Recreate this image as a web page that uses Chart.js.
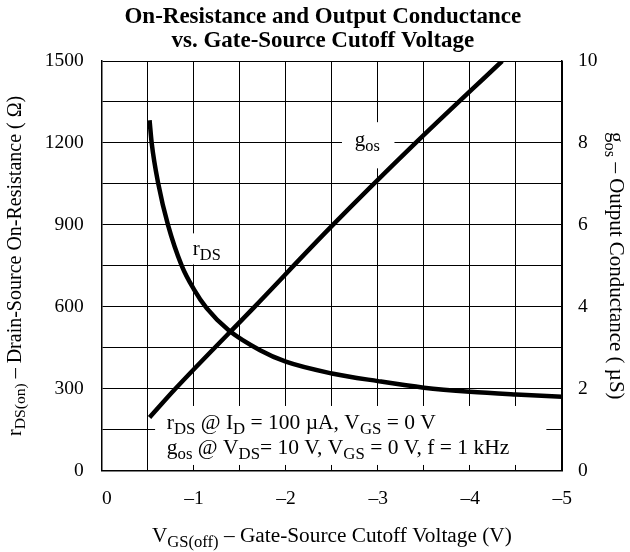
<!DOCTYPE html>
<html>
<head>
<meta charset="utf-8">
<script src="https://cdn.jsdelivr.net/npm/chart.js@4"></script>
<style>
  html, body { margin: 0; padding: 0; background: #fff; }
  #wrap { width: 630px; height: 552px; position: relative; }
</style>
</head>
<body>
<div id="wrap"><canvas id="chart"></canvas></div>
<script>
// values
const rdsVolts = [-0.52, -0.543, -0.615, -0.72, -0.87, -1.0, -1.14, -1.376, -1.72, -2.0, -2.5, -3.0, -3.5, -4.0, -4.5, -5.0];
const rdsOhms = [1283, 1200, 1050, 900, 750, 665, 595, 515, 441, 399, 356, 328, 304, 289, 279, 271];

const gosVolts = [-0.52, -0.8, -1.66, -2.49, -3.41, -4.35];
const gosMicroS = [1.3, 2.0, 4.0, 5.95, 8.0, 10.0];

const xTicks = [0, -1, -2, -3, -4, -5];
const leftTicks = [0, 300, 600, 900, 1200, 1500];
const rightTicks = [0, 2, 4, 6, 8, 10];

const FONT = '"Liberation Serif", "Times New Roman", serif';

function near(list, v) {
  return list.some(t => Math.abs(t - v) < 1e-6);
}

// draws text made of [text, isSubscript] pieces
function drawRich(ctx, parts, x, y, size, align) {
  const subSize = size * 0.78;
  let w = 0;
  parts.forEach(p => {
    ctx.font = `${p[1] ? subSize : size}px ${FONT}`;
    w += ctx.measureText(p[0]).width;
  });
  let cx = align === 'center' ? x - w / 2 : x;
  ctx.textAlign = 'left';
  ctx.textBaseline = 'alphabetic';
  ctx.fillStyle = '#000';
  parts.forEach(p => {
    ctx.font = `${p[1] ? subSize : size}px ${FONT}`;
    ctx.fillText(p[0], cx, y + (p[1] ? size * 0.22 : 0));
    cx += ctx.measureText(p[0]).width;
  });
}

const decor = {
  id: 'decor',
  beforeDatasetsDraw(chart) {
    const ctx = chart.ctx;
    const xs = chart.scales.x, ys = chart.scales.y;
    const box = (x1, x2, y1, y2) => {
      const l = xs.getPixelForValue(x1), r = xs.getPixelForValue(x2);
      const t = ys.getPixelForValue(y1), b = ys.getPixelForValue(y2);
      ctx.fillStyle = '#fff';
      ctx.fillRect(Math.min(l, r), Math.min(t, b), Math.abs(r - l), Math.abs(b - t));
    };
    ctx.save();
    box(-0.58, -4.83, 237, 21);
    box(-0.95, -1.35, 869, 755);
    box(-2.61, -3.18, 1276, 1107);

    drawRich(ctx, [['r'], ['DS', 1]], xs.getPixelForValue(-0.99), ys.getPixelForValue(788), 21);
    drawRich(ctx, [['g'], ['os', 1]], xs.getPixelForValue(-2.75), ys.getPixelForValue(1187), 21);

    const nx = xs.getPixelForValue(-0.707);
    drawRich(ctx, [['r'], ['DS', 1], [' @ I'], ['D', 1], [' = 100 \u00b5A, V'], ['GS', 1], [' = 0 V']],
      nx, ys.getPixelForValue(152), 21.5);
    drawRich(ctx, [['g'], ['os', 1], [' @ V'], ['DS', 1], ['= 10 V, V'], ['GS', 1], [' = 0 V, f = 1 kHz']],
      nx, ys.getPixelForValue(61), 21.5);
    ctx.restore();
  },
  afterDraw(chart) {
    const ctx = chart.ctx;
    const area = chart.chartArea;
    const cx = (area.left + area.right) / 2;
    const cy = (area.top + area.bottom) / 2;
    ctx.save();
    ctx.fillStyle = '#000';
    ctx.textAlign = 'center';
    ctx.textBaseline = 'alphabetic';
    ctx.font = `bold 23px ${FONT}`;
    ctx.fillText('On-Resistance and Output Conductance', cx - 9, 23);
    ctx.fillText('vs. Gate-Source Cutoff Voltage', cx - 9, 47);

    drawRich(ctx, [['V'], ['GS(off)', 1], [' \u2013 Gate-Source Cutoff Voltage (V)']], cx, 542, 21.3, 'center');

    ctx.save();
    ctx.translate(21, cy);
    ctx.rotate(-Math.PI / 2);
    drawRich(ctx, [['r'], ['DS(on)', 1], [' \u2013 Drain-Source On-Resistance ( \u03a9)']], 0, 0, 20, 'center');
    ctx.restore();

    ctx.save();
    ctx.translate(610, cy);
    ctx.rotate(Math.PI / 2);
    drawRich(ctx, [['g'], ['os', 1], [' \u2013 Output Conductance ( \u00b5S)']], 0, 0, 21, 'center');
    ctx.restore();
    ctx.restore();
  }
};

const tickFont = { family: FONT, size: 19.5 };

new Chart(document.getElementById('chart'), {
  type: 'line',
  data: {
    datasets: [
      {
        label: 'rDS',
        data: rdsVolts.map((v, i) => ({ x: v, y: rdsOhms[i] })),
        yAxisID: 'y',
        borderColor: '#000',
        borderWidth: 4.5,
        pointRadius: 0,
        fill: false,
        cubicInterpolationMode: 'monotone'
      },
      {
        label: 'gos',
        data: gosVolts.map((v, i) => ({ x: v, y: gosMicroS[i] })),
        yAxisID: 'y2',
        borderColor: '#000',
        borderWidth: 4.5,
        pointRadius: 0,
        fill: false,
        cubicInterpolationMode: 'monotone'
      }
    ]
  },
  options: {
    responsive: true,
    maintainAspectRatio: false,
    animation: false,
    layout: { padding: { top: 61, left: 0, right: 0, bottom: 0 } },
    plugins: {
      legend: { display: false },
      tooltip: { enabled: false }
    },
    scales: {
      x: {
        type: 'linear',
        reverse: true,
        min: -5,
        max: 0,
        grid: { color: '#000', lineWidth: 1, drawTicks: false },
        border: { color: '#000', width: 1.5 },
        ticks: {
          stepSize: 0.5,
          autoSkip: false,
          maxRotation: 0,
          color: '#000',
          font: tickFont,
          padding: 16,
          align: 'end',
          labelOffset: 10,
          callback: v => near(xTicks, v) ? (Math.abs(v) < 1e-6 ? '0' : '\u2013' + Math.round(Math.abs(v))) : ''
        },
        afterFit: s => { s.height = 81.3; }
      },
      y: {
        position: 'left',
        min: 0,
        max: 1500,
        grid: { color: '#000', lineWidth: 1, drawTicks: false },
        border: { color: '#000', width: 1.5 },
        ticks: {
          stepSize: 150,
          autoSkip: false,
          color: '#000',
          font: tickFont,
          padding: 18,
          callback: v => near(leftTicks, v) ? String(Math.round(v)) : ''
        },
        afterFit: s => { s.width = 101.7; }
      },
      y2: {
        position: 'right',
        min: 0,
        max: 10,
        grid: { drawOnChartArea: false, drawTicks: false },
        border: { color: '#000', width: 1.5 },
        ticks: {
          stepSize: 1,
          autoSkip: false,
          color: '#000',
          font: tickFont,
          padding: 16,
          callback: v => near(rightTicks, v) ? String(Math.round(v)) : ''
        },
        afterFit: s => { s.width = 68; }
      }
    }
  },
  plugins: [decor]
});
</script>
</body>
</html>
